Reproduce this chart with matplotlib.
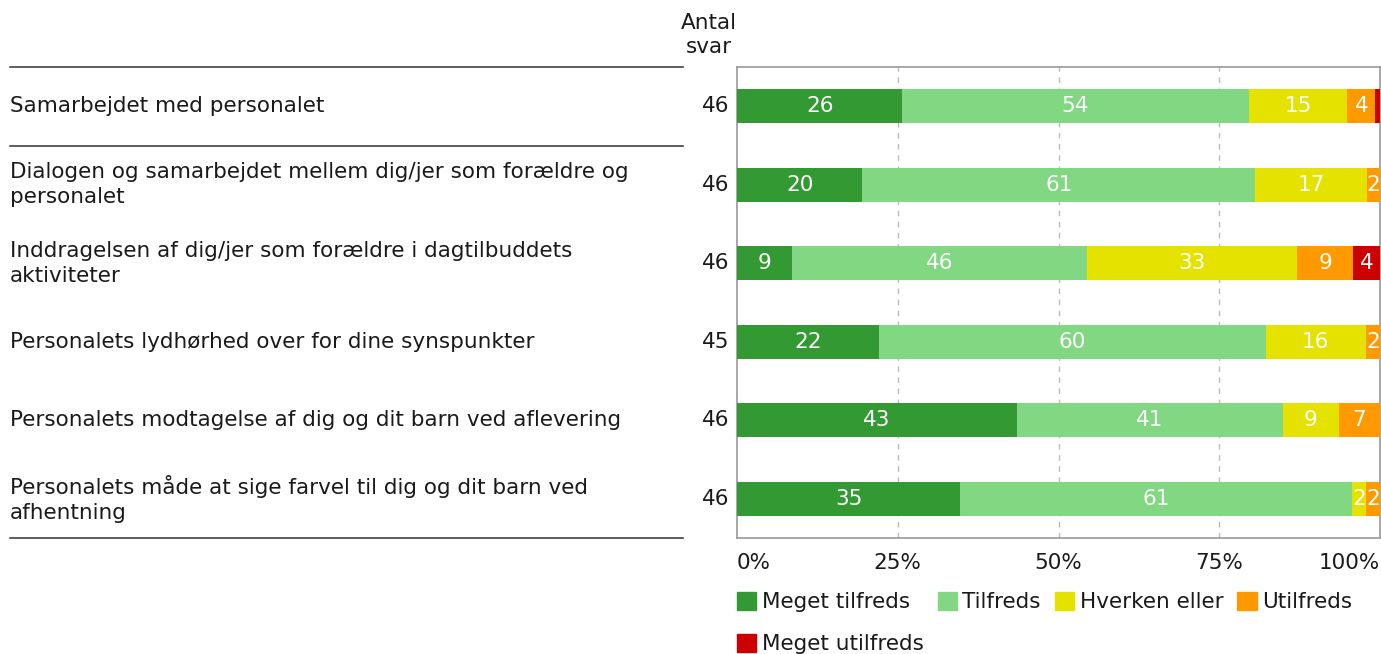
import matplotlib
matplotlib.use('Agg')
import matplotlib.pyplot as plt
import matplotlib.transforms as mtransforms
from matplotlib.lines import Line2D
from matplotlib.patches import Patch
import numpy as np

OUTPUT_PNG = "out.png"

questions = [
    "Samarbejdet med personalet",
    "Dialogen og samarbejdet mellem dig/jer som forældre og\npersonalet",
    "Inddragelsen af dig/jer som forældre i dagtilbuddets\naktiviteter",
    "Personalets lydhørhed over for dine synspunkter",
    "Personalets modtagelse af dig og dit barn ved aflevering",
    "Personalets måde at sige farvel til dig og dit barn ved\nafhentning",
]
n_answers = [46, 46, 46, 45, 46, 46]

categories = ["Meget tilfreds", "Tilfreds", "Hverken eller", "Utilfreds", "Meget utilfreds"]

# percent per question
meget_tilfreds = [25.7, 19.5, 8.6, 22.1, 43.5, 34.7]
tilfreds = [53.9, 61.1, 45.8, 60.1, 41.4, 60.9]
hverken = [15.3, 17.4, 32.7, 15.6, 8.7, 2.2]
utilfreds = [4.4, 2.0, 8.7, 2.2, 6.4, 2.2]
meget_utilfreds = [0.7, 0.0, 4.2, 0.0, 0.0, 0.0]

# rounded numbers printed on the segments
labels_mt = [26, 20, 9, 22, 43, 35]
labels_t = [54, 61, 46, 60, 41, 61]
labels_h = [15, 17, 33, 16, 9, 2]
labels_u = [4, 2, 9, 2, 7, 2]
labels_mu = [None, None, 4, None, None, None]

COLORS = ['#339933', '#82D882', '#E6E200', '#FF9900', '#CC0000']
TEXT = '#1a1a1a'
FS = 15.5

plt.rcParams['font.family'] = ['DejaVu Sans']

fig = plt.figure(figsize=(13.81, 6.54), dpi=100)
W, H = 1381, 654
ax = fig.add_axes([737 / W, 1 - 538 / H, 643 / W, 471 / H])

series = [meget_tilfreds, tilfreds, hverken, utilfreds, meget_utilfreds]
seg_labels = [labels_mt, labels_t, labels_h, labels_u, labels_mu]
y = np.arange(len(questions))
left = np.zeros(len(questions))
for vals, labs, col, cat in zip(series, seg_labels, COLORS, categories):
    vals = np.array(vals)
    ax.barh(y, vals, left=left, height=0.43, color=col, label=cat, zorder=3)
    for i, (v, lab) in enumerate(zip(vals, labs)):
        if lab is not None and v > 0:
            ax.text(left[i] + v / 2, y[i], str(lab), ha='center', va='center',
                    color='white', fontsize=FS, zorder=4)
    left += vals

ax.set_xlim(0, 100)
ax.set_ylim(len(questions) - 0.5, -0.5)
ax.set_yticks([])
ax.set_xticks([0, 25, 50, 75, 100])
ax.set_xticklabels(['0%', '25%', '50%', '75%', '100%'], fontsize=FS, color=TEXT)
ticklabels = ax.get_xticklabels()
ticklabels[0].set_ha('left')
ticklabels[-1].set_ha('right')
ax.tick_params(axis='x', length=0, pad=11)
for x in [25, 50, 75]:
    ax.axvline(x, color='#bbbbbb', linestyle=(0, (4, 4)), linewidth=1, zorder=1)
for sp in ax.spines.values():
    sp.set_color('#999999')
    sp.set_linewidth(1.2)

# question texts and counts
trans = mtransforms.blended_transform_factory(fig.transFigure, ax.transData)
for i, (q, n) in enumerate(zip(questions, n_answers)):
    ax.text(10 / W, i, q, transform=trans, ha='left', va='center',
            fontsize=FS, color=TEXT, linespacing=1.3)
    ax.text(-0.011, i, str(n), transform=ax.get_yaxis_transform(),
            ha='right', va='center', fontsize=FS, color=TEXT)

# separator lines on the left
for yy in [-0.5, 0.5, len(questions) - 0.5]:
    fig.add_artist(Line2D([10 / W, 683 / W], [yy, yy], transform=trans,
                          color='#333333', linewidth=1.1))

fig.text(709 / W, 1 - 35 / H, "Antal\nsvar", ha='center', va='center',
         fontsize=FS, color=TEXT, linespacing=1.3)

# legend laid out row by row
handles = [Patch(color=c) for c in COLORS]
order = [0, 4, 1, 2, 3]
fig.legend([handles[i] for i in order], [categories[i] for i in order],
           loc='upper left', bbox_to_anchor=(737 / W, 1 - 592 / H), ncol=4,
           frameon=False, fontsize=FS, handlelength=0.9, handleheight=0.9,
           handletextpad=0.25, columnspacing=0.65, labelspacing=1.0,
           borderpad=0, borderaxespad=0, labelcolor=TEXT)

fig.savefig(OUTPUT_PNG, dpi=100)
plt.close(fig)
